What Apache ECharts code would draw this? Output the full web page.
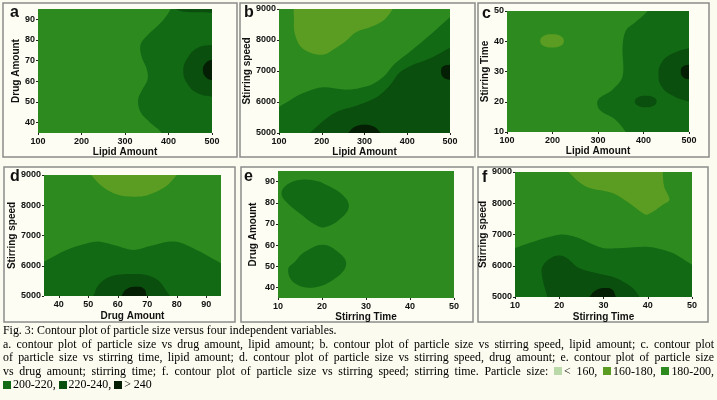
<!DOCTYPE html>
<html>
<head>
<meta charset="utf-8">
<script src="https://cdn.jsdelivr.net/npm/echarts@6/dist/echarts.min.js"></script>
<style>
  html, body { margin:0; padding:0; background:#fbfbef; }
  #c { position:absolute; left:0; top:0; width:717px; height:400px; }
  #cap { position:absolute; left:3px; top:324px; width:711px; font-family:"Liberation Serif", "DejaVu Serif", serif; font-size:11.9px; color:#000; }
  #cap div { height:13.5px; line-height:13.5px; white-space:nowrap; text-align:justify; text-align-last:justify; }
  #cap div.last { text-align-last:left; }
  #cap .sq { display:inline-block; width:8px; height:8px; margin-right:2px; vertical-align:-0.5px; }
</style>
</head>
<body>
<div id="c"></div>
<div id="cap"></div>
<script>
// ---- level colours (particle size classes) ----
const levelNames = ['< 160', '160-180', '180-200', '200-220', '220-240', '> 240'];
const levelColors = ['#b9d9a9', '#5b9d22', '#2d8a1e', '#126a15', '#0a4f0d', '#041f04'];

// ---- tick labels ----
const lipidTicks = [100, 200, 300, 400, 500];
const drugTicks = [40, 50, 60, 70, 80, 90];
const speedTicks = [5000, 6000, 7000, 8000, 9000];
const timeTicks = [10, 20, 30, 40, 50];

// ---- contour boundaries (data units) ----
// panel a: x = lipid amount, y = drug amount
const aBase = [[100,35],[500,35],[500,95],[100,95]];
const a200 = [[410,100],[405,95],[385,89],[355,83],[336,78],[338,72],[350,66],[352,61],[340,56],[330,51],[336,45],[358,40],[384,35],[390,28],[530,28],[530,100]];
const a220 = [[520,52],[500,52.6],[470,54],[446,58],[434,65],[446,72],[470,76.5],[500,77.6],[520,78]];
const a220top = [[400,98],[425,94.2],[460,93.4],[500,93.2],[520,93.2],[520,98]];
const a240 = [[520,60],[500,60.5],[486,62],[479,65.5],[486,69],[500,70.5],[520,71]];

// panel b: x = lipid amount, y = stirring speed
const bBase = [[100,5000],[500,5000],[500,9000],[100,9000]];
const b160 = [[142,9150],[135,8600],[137,8200],[150,7800],[175,7580],[205,7530],[230,7720],[255,7950],[280,8250],[320,8450],[350,8700],[365,9150]];
const b200 = [[80,4900],[80,5800],[100,5850],[150,6250],[199,6470],[262,6400],[316,6560],[347,6850],[370,7226],[409,7656],[456,8194],[500,8731],[530,9000],[530,4900]];
const b220 = [[165,4900],[172,5000],[207,5430],[238,5700],[277,5860],[331,6180],[360,6550],[382,6950],[410,7180],[447,7370],[480,7600],[500,7742],[530,7800],[530,4900]];
const b240a = [[262,4900],[265,5050],[280,5220],[300,5270],[320,5220],[335,5050],[338,4900]];
const b240b = [[520,6720],[500,6720],[484,6800],[479,6990],[484,7150],[500,7200],[520,7200]];

// panel c: x = lipid amount, y = stirring time
const cBase = [[100,10],[500,10],[500,50],[100,50]];
const c160 = [[173,40.1],[180,41.7],[199,42.3],[218,41.7],[225,40.1],[218,38.5],[199,37.9],[180,38.5]];
const c200 = [[412,52],[409,50],[380,46],[361,43.5],[354,38.2],[354,28.4],[332,24],[300,20.7],[303,17.4],[339,14],[361,10],[365,8],[530,8],[530,52]];
const c220 = [[520,20],[500,20.1],[465,22],[440,25],[433,28.9],[440,33],[465,36],[500,37.7],[520,38]];
const c220b = [[381,20.1],[388,21.5],[405,22],[422,21.5],[429,20.1],[422,18.7],[405,18.2],[388,18.7]];
const c240 = [[520,27.3],[500,27.4],[486,28.3],[482,30],[486,31.6],[500,32.2],[520,32.3]];

// panel d: x = drug amount, y = stirring speed
const dBase = [[35,5000],[95,5000],[95,9000],[35,9000]];
const d160 = [[50,9150],[51,9000],[55,8600],[60,8350],[65.3,8284],[70,8330],[76,8600],[80,9000],[81,9150]];
const d200 = [[32,4900],[32,6000],[35,6135],[42.6,6520],[50,6750],[54,6796],[59.6,6660],[65.3,6520],[71,6650],[77,6790],[81,6770],[88,6460],[95,6080],[98,5950],[98,4900]];
const d220 = [[50,4900],[51.7,5000],[53,5300],[56.2,5584],[60,5700],[65.3,5727],[70,5690],[74,5500],[77.7,5000],[79,4900]];
const d240 = [[61,4900],[61.3,5000],[63,5230],[66.4,5309],[69,5230],[69.8,5000],[70.2,4900]];

// panel e: x = stirring time, y = drug amount
const eBase = [[10,35],[50,35],[50,95],[10,95]];
const e200a = [[10.8,84.2],[12,88.5],[15.3,90.9],[19,90.2],[21.4,88],[24.5,84],[26.1,78.6],[24.5,73],[20.6,68.4],[18,70.2],[16,73.3],[12.3,79.5]];
const e200b = [[20.2,60.2],[23.5,57],[25.5,51.3],[23.5,45],[18.3,40],[13.8,42],[12.3,48.4],[14,52.5],[16.1,56.8]];

// panel f: x = stirring time, y = stirring speed
const fBase = [[10,5000],[50,5000],[50,9000],[10,9000]];
const f160 = [[21.5,9150],[22.1,9000],[26,8540],[32,8330],[35.8,8010],[38.8,7690],[40,7640],[43.4,7955],[44.9,8115],[43.7,8540],[43.4,9000],[43.4,9150]];
const f200 = [[8,4900],[8,6500],[10,6568],[13.2,6730],[20,6995],[23.7,6920],[29.8,6570],[34.3,6570],[40.3,6600],[45.6,6410],[50,6035],[52,5900],[52,4900]];
const f220 = [[17.3,4900],[17.3,5000],[16.2,5600],[16.2,5980],[18.5,6280],[21.1,6300],[24.5,5925],[28.3,5765],[32.8,5605],[36.6,5285],[38.1,5000],[38.3,4900]];
const f240 = [[26.6,4900],[26.8,5000],[28.5,5230],[30.5,5290],[32,5230],[32.8,5000],[33,4900]];

// ---- panel definitions (level index into levelColors) ----
const panels = [
  { letter:'a', xName:'Lipid Amount', yName:'Drug Amount', x:[100,500,100], y:[35,95], yTicks:drugTicks, xTicks:null,
    regions:[[2,aBase,0],[3,a200,0.35],[4,a220,0.45],[4,a220top,0.3],[5,a240,0.45]] },
  { letter:'b', xName:'Lipid Amount', yName:'Stirring speed', x:[100,500,100], y:[5000,9000,1000],
    regions:[[2,bBase,0],[1,b160,0.35],[3,b200,0.3],[4,b220,0.3],[5,b240a,0.45],[5,b240b,0.45]] },
  { letter:'c', xName:'Lipid Amount', yName:'Stirring Time', x:[100,500,100], y:[10,50,10],
    regions:[[2,cBase,0],[1,c160,0.45],[3,c200,0.35],[4,c220,0.45],[4,c220b,0.45],[5,c240,0.45]] },
  { letter:'d', xName:'Drug Amount', yName:'Stirring speed', x:[35,95], xTicks:drugTicks, y:[5000,9000,1000],
    regions:[[2,dBase,0],[1,d160,0.35],[3,d200,0.3],[4,d220,0.35],[5,d240,0.45]] },
  { letter:'e', xName:'Stirring Time', yName:'Drug Amount', x:[10,50,10], y:[35,95], yTicks:drugTicks,
    regions:[[2,eBase,0],[3,e200a,0.4],[3,e200b,0.4]] },
  { letter:'f', xName:'Stirring Time', yName:'Stirring speed', x:[10,50,10], y:[5000,9000,1000],
    regions:[[2,fBase,0],[1,f160,0.35],[3,f200,0.3],[4,f220,0.35],[5,f240,0.45]] }
];

// layout (pixels)
const grids = [
  {left:38, top:9, width:174, height:124},
  {left:279, top:9, width:171, height:124},
  {left:507, top:11, width:182, height:121},
  {left:44, top:175, width:177, height:121},
  {left:278, top:171, width:176, height:127},
  {left:515, top:172, width:177, height:125}
];
const yNameGaps = [16, 24, 17, 24, 20, 24];
const xNameGaps = [14, 14, 14, 15, 14, 15];
const boxes = [
  [3,3,234,154],[240,3,235,154],[478,3,231,154],
  [4,167,231,155],[241,167,232,155],[478,167,230,155]
];
const letterPos = [[10,5],[244,5],[482,6],[10,169],[244,169],[482,170]];

const labelFont = { fontFamily:'"Liberation Sans Narrow", "Liberation Sans", Arial, sans-serif', fontWeight:'bold', fontSize:9, color:'#111' };
const nameFont = { fontFamily:'"Liberation Sans Narrow", "Liberation Sans", Arial, sans-serif', fontWeight:'bold', fontSize:10, color:'#111' };
const plain = v => String(v);

const xAxes = [], yAxes = [], series = [];
panels.forEach((p, i) => {
  const xa = { type:'value', gridIndex:i, min:p.x[0], max:p.x[1], name:p.xName, nameLocation:'middle', nameGap:xNameGaps[i],
    nameTextStyle:nameFont, axisLine:{show:false}, splitLine:{show:false},
    axisTick:{show:true, length:2, lineStyle:{color:'#222'}}, axisLabel:Object.assign({margin:4, formatter:plain}, labelFont) };
  if (p.x[2]) xa.interval = p.x[2];
  if (p.xTicks) { xa.axisLabel.customValues = p.xTicks; xa.axisTick.customValues = p.xTicks; }
  const ya = { type:'value', gridIndex:i, min:p.y[0], max:p.y[1], name:p.yName, nameLocation:'middle', nameGap:yNameGaps[i],
    nameTextStyle:nameFont, axisLine:{show:false}, splitLine:{show:false},
    axisTick:{show:true, length:2, lineStyle:{color:'#222'}}, axisLabel:Object.assign({margin:3, formatter:plain}, labelFont) };
  if (p.y[2]) ya.interval = p.y[2];
  if (p.yTicks) { ya.axisLabel.customValues = p.yTicks; ya.axisTick.customValues = p.yTicks; }
  xAxes.push(xa); yAxes.push(ya);
  const regs = p.regions;
  series.push({
    type:'custom', xAxisIndex:i, yAxisIndex:i, clip:true, silent:true,
    data: regs.map((r, k) => [k]),
    renderItem: function (params, api) {
      const r = regs[params.dataIndex];
      const pts = r[1].map(pt => api.coord(pt));
      const cs = params.coordSys;
      return {
        type:'group',
        clipPath:{ type:'rect', shape:{ x:cs.x, y:cs.y, width:cs.width, height:cs.height } },
        children:[{ type:'polygon', shape:{ points:pts, smooth:r[2] }, style:{ fill:levelColors[r[0]], stroke:null } }]
      };
    }
  });
});

const graphics = [];
boxes.forEach(b => graphics.push({ type:'rect', z:-10, silent:true, shape:{x:b[0], y:b[1], width:b[2], height:b[3]},
  style:{ fill:'#fdfdf3', stroke:'#8c8c8c', lineWidth:1.5 } }));
panels.forEach((p, i) => graphics.push({ type:'text', z:10, silent:true, left:letterPos[i][0], top:letterPos[i][1],
  style:{ text:p.letter, font:'bold 16px "Liberation Sans", Arial, sans-serif', fill:'#111' } }));

const chart = echarts.init(document.getElementById('c'), null, { renderer:'canvas' });
chart.setOption({
  animation:false,
  backgroundColor:'#fbfbef',
  grid:grids,
  xAxis:xAxes,
  yAxis:yAxes,
  series:series,
  graphic:graphics
});

// ---- caption ----
const captionLines = [
  'Fig. 3: Contour plot of particle size versus four independent variables.',
  'a. contour plot of particle size vs drug amount, lipid amount; b. contour plot of particle size vs stirring speed, lipid amount; c. contour plot',
  'of particle size vs stirring time, lipid amount; d. contour plot of particle size vs stirring speed, drug amount; e. contour plot of particle size',
  'vs drug amount; stirring time; f. contour plot of particle size vs stirring speed; stirring time. Particle size:'
];
const cap = document.getElementById('cap');
function sq(k) { return '<span class="sq" style="background:' + levelColors[k] + '"></span>' + levelNames[k]; }
let html = '';
html += '<div class="last">' + captionLines[0] + '</div>';
html += '<div>' + captionLines[1] + '</div>';
html += '<div>' + captionLines[2] + '</div>';
html += '<div>' + captionLines[3] + ' ' + sq(0) + ', ' + sq(1) + ', ' + sq(2) + ',</div>';
html += '<div class="last">' + sq(3) + ', ' + sq(4) + ', ' + sq(5) + '</div>';
cap.innerHTML = html;
</script>
</body>
</html>
